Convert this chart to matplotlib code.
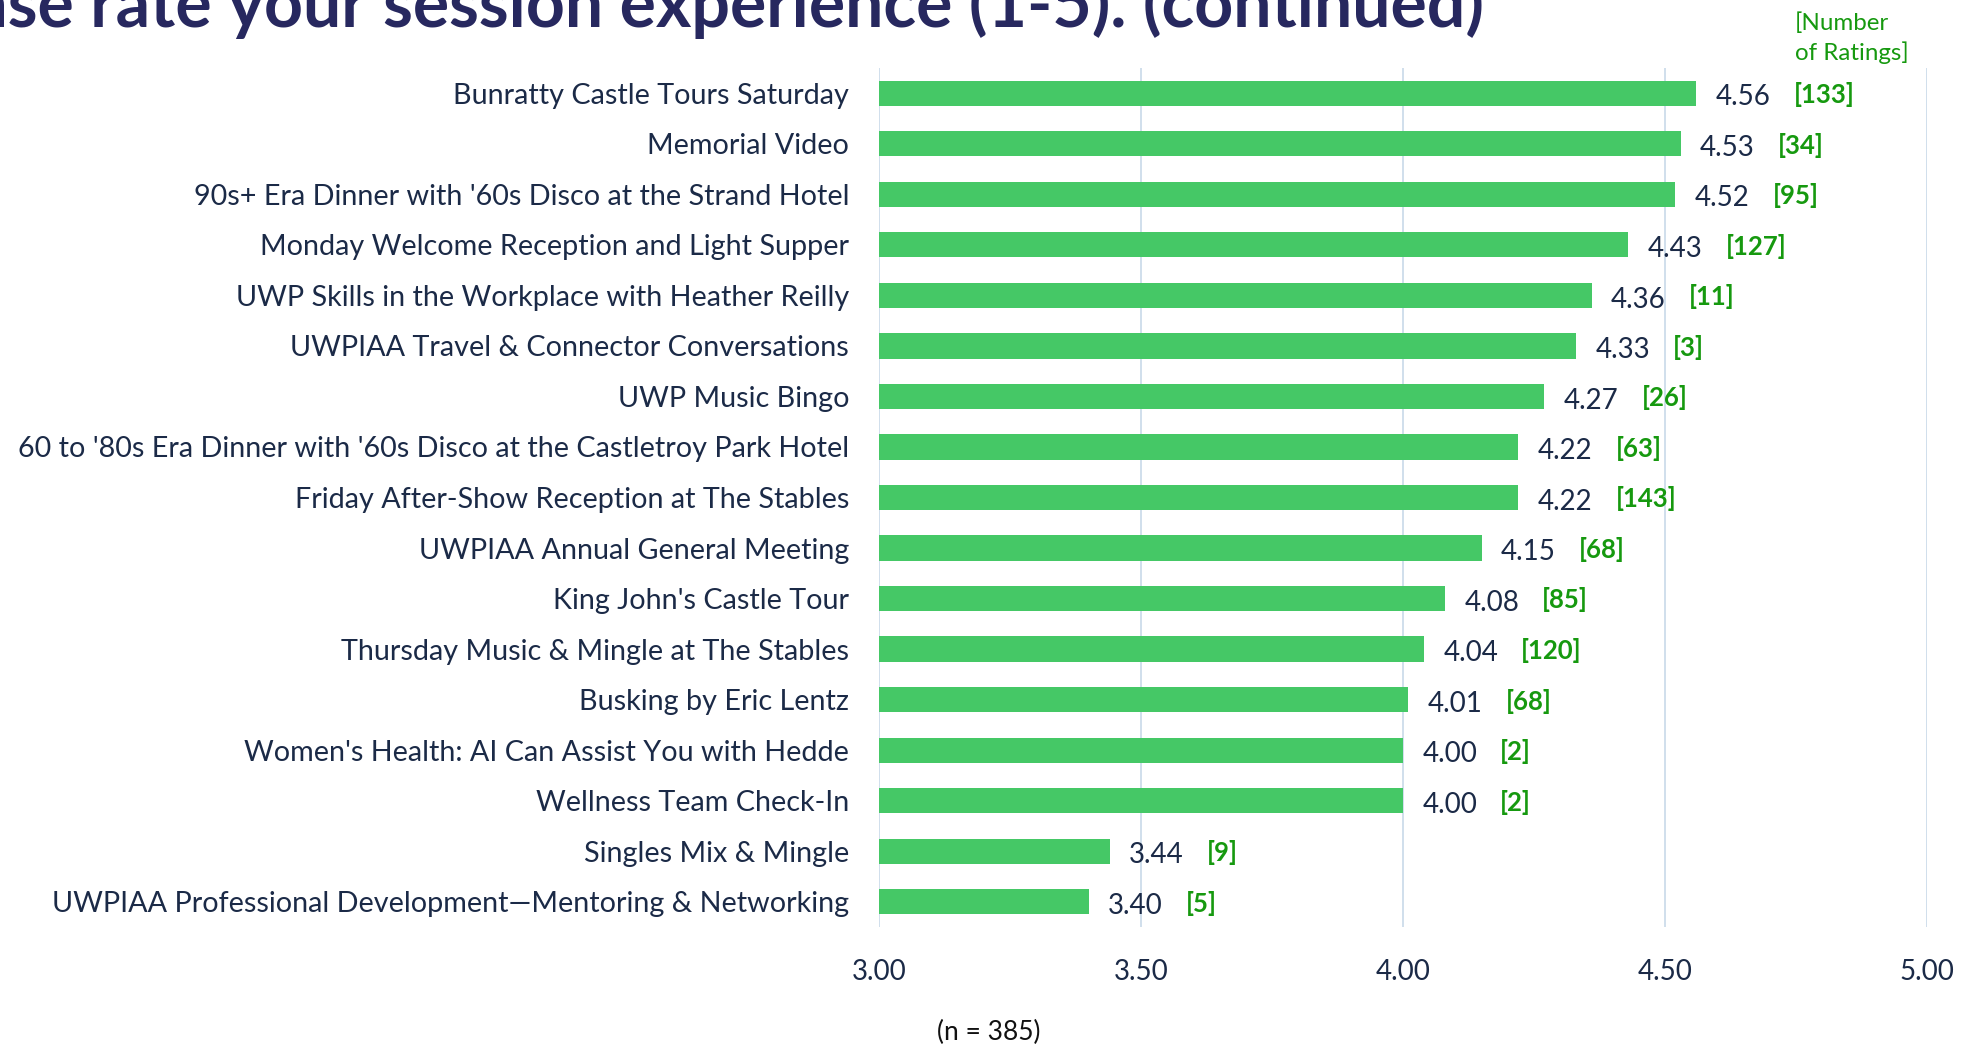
import matplotlib
matplotlib.use("Agg")
import matplotlib.pyplot as plt

plt.rcParams['font.family'] = ['Lato', 'DejaVu Sans']

categories = [
    "Bunratty Castle Tours Saturday",
    "Memorial Video",
    "90s+ Era Dinner with '60s Disco at the Strand Hotel",
    "Monday Welcome Reception and Light Supper",
    "UWP Skills in the Workplace with Heather Reilly",
    "UWPIAA Travel & Connector Conversations",
    "UWP Music Bingo",
    "60 to '80s Era Dinner with '60s Disco at the Castletroy Park Hotel",
    "Friday After-Show Reception at The Stables",
    "UWPIAA Annual General Meeting",
    "King John's Castle Tour",
    "Thursday Music & Mingle at The Stables",
    "Busking by Eric Lentz",
    "Women's Health: AI Can Assist You with Hedde",
    "Wellness Team Check-In",
    "Singles Mix & Mingle",
    "UWPIAA Professional Development\u2014Mentoring & Networking",
]
ratings = [4.56, 4.53, 4.52, 4.43, 4.36, 4.33, 4.27, 4.22, 4.22, 4.15, 4.08, 4.04, 4.01, 4.00, 4.00, 3.44, 3.40]
counts = [133, 34, 95, 127, 11, 3, 26, 63, 143, 68, 85, 120, 68, 2, 2, 9, 5]
xticks = [3.0, 3.5, 4.0, 4.5, 5.0]
xtick_labels = ["3.00", "3.50", "4.00", "4.50", "5.00"]
title = "Please rate your session experience (1-5). (continued)"
note = "(n = 385)"

W, H = 1972, 1047
fig = plt.figure(figsize=(W / 100, H / 100), dpi=100)
ax = fig.add_axes([879 / W, 1 - 927 / H, (1927 - 879) / W, (927 - 68) / H])

navy = '#1b2a47'
green_bar = '#45c866'
green_txt = '#16990f'

y = list(range(len(categories)))
ax.barh(y, [r - 3.0 for r in ratings], left=3.0, height=0.5, color=green_bar, zorder=3)
ax.set_xlim(3.0, 5.0)
ax.set_ylim(len(categories) - 0.5, -0.5)
ax.set_yticks(y)
ax.set_yticklabels(categories, fontsize=20.7, color=navy)
ax.set_xticks(xticks)
ax.set_xticklabels(xtick_labels, fontsize=20, color=navy)
ax.tick_params(axis='y', length=0, pad=21.5)
ax.tick_params(axis='x', length=0, pad=23)
for s in ax.spines.values():
    s.set_visible(False)
ax.grid(axis='x', color='#cddcea', linewidth=1.3, zorder=0)

for yi, r, c in zip(y, ratings, counts):
    ax.annotate(f"{r:.2f}", (r, yi), xytext=(14, -3), textcoords='offset points',
                ha='left', va='center', fontsize=20, color=navy)
    ax.annotate(f"[{c}]", (r, yi), xytext=(70, -1), textcoords='offset points',
                ha='left', va='center', fontsize=18.5, color=green_txt, fontweight='bold')

fig.text(1795 / W, 1 - 12 / H, "[Number\nof Ratings]", ha='left', va='top',
         fontsize=17.4, color=green_txt, linespacing=1.4)
fig.text(1484 / W, 1 - 27 / H, title, ha='right', va='baseline',
         fontsize=49, fontweight='bold', color='#27285f')
fig.text(989 / W, 1 - 1032 / H, note, ha='center', va='center', fontsize=19, color='#111111')

fig.savefig("out.png", dpi=100, facecolor='white')
